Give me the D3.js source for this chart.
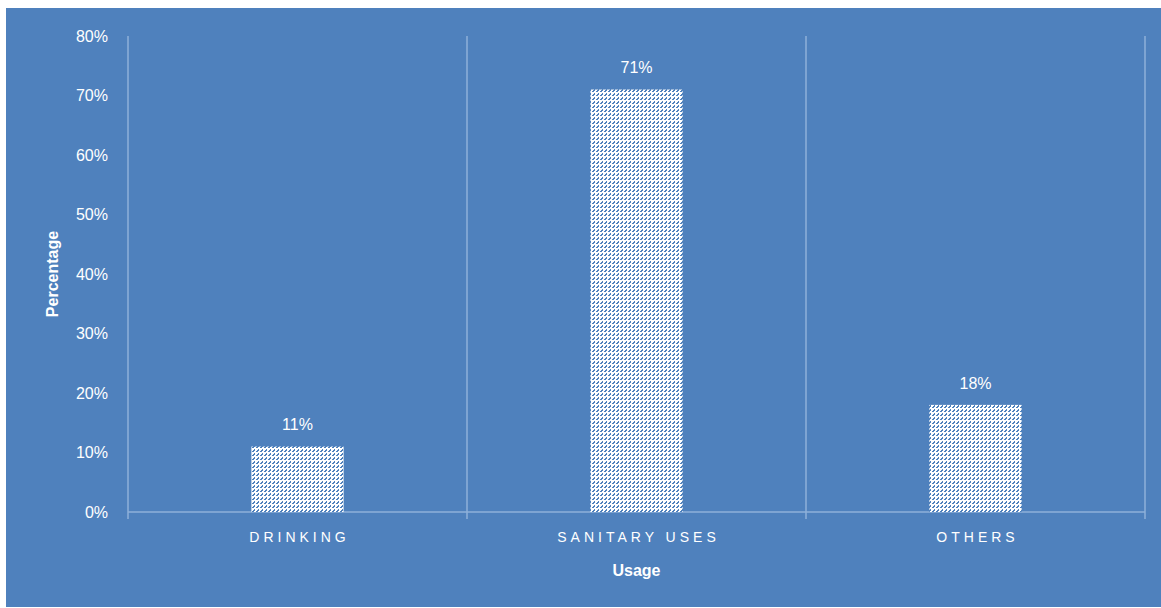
<!DOCTYPE html>
<html>
<head>
<meta charset="utf-8">
<script src="https://cdn.jsdelivr.net/npm/d3@7"></script>
<style>
  html, body { margin: 0; padding: 0; background: #ffffff; }
  svg { display: block; }
</style>
</head>
<body>
<svg id="chart" width="1161" height="608"></svg>
<script>
// Water usage shares by category
const categories = ["DRINKING", "SANITARY USES", "OTHERS"];
const values = [0.11, 0.71, 0.18];
const valueLabels = ["11%", "71%", "18%"];
const yTicks = [0, 0.1, 0.2, 0.3, 0.4, 0.5, 0.6, 0.7, 0.8];

const W = 1161, H = 608;
const bg = "#4f81bd";
const gridColor = "#8eb0da";
const margin = { left: 128, right: 16, top: 36, bottom: 96 };
const font = "'Liberation Sans', Arial, sans-serif";

const svg = d3.select("#chart");

// dashed upward-diagonal hatch used for the bars (8x8 tile, staggered dashes)
const defs = svg.append("defs");
const pat = defs.append("pattern")
  .attr("id", "hatch")
  .attr("patternUnits", "userSpaceOnUse")
  .attr("width", 8).attr("height", 8);
pat.append("rect").attr("width", 8).attr("height", 8).attr("fill", "#ffffff");
const dashPixels = [
  // dash on the x+y=7 diagonal
  [0,7],[1,7],[1,6],[2,6],[2,5],
  // staggered dash on the x+y=3 (mod 8) diagonal
  [4,7],[5,7],[5,6],[6,6],[6,5],
  [0,3],[1,3],[1,2],[2,2],[2,1],
  [4,3],[5,3],[5,2],[6,2],[6,1]
];
pat.selectAll("rect.px").data(dashPixels).enter().append("rect")
  .attr("class", "px")
  .attr("x", d => d[0]).attr("y", d => d[1])
  .attr("width", 1).attr("height", 1)
  .attr("fill", bg);

// background panel
svg.append("rect")
  .attr("x", 6).attr("y", 8)
  .attr("width", W - 6).attr("height", H - 9)
  .attr("fill", bg);

const x = d3.scaleBand()
  .domain(categories)
  .range([margin.left, W - margin.right])
  .paddingInner(0).paddingOuter(0);

const y = d3.scaleLinear()
  .domain([0, 0.8])
  .range([H - margin.bottom, margin.top]);

const y0 = y(0);
const yTop = y(0.8);

// vertical category separators (extend below the axis as tick marks)
const edges = categories.map(c => x(c)).concat([x(categories[categories.length - 1]) + x.bandwidth()]);
svg.selectAll("line.sep").data(edges).enter().append("line")
  .attr("class", "sep")
  .attr("x1", d => d).attr("x2", d => d)
  .attr("y1", yTop).attr("y2", y0 + 7)
  .attr("stroke", gridColor).attr("stroke-width", 1.5);

// baseline
svg.append("line")
  .attr("x1", x.range()[0]).attr("x2", x.range()[1])
  .attr("y1", y0).attr("y2", y0)
  .attr("stroke", gridColor).attr("stroke-width", 1.5);

// y tick labels
svg.selectAll("text.ytick").data(yTicks).enter().append("text")
  .attr("class", "ytick")
  .attr("x", 108)
  .attr("y", d => y(d))
  .attr("dy", "0.35em")
  .attr("text-anchor", "end")
  .attr("fill", "#ffffff")
  .style("font-family", font)
  .style("font-size", "16px")
  .text(d => d3.format(".0%")(d));

// bars
const barW = x.bandwidth() * 0.272;
svg.selectAll("rect.bar").data(values).enter().append("rect")
  .attr("class", "bar")
  .attr("x", (d, i) => x(categories[i]) + x.bandwidth() / 2 - barW / 2)
  .attr("y", d => y(d))
  .attr("width", barW)
  .attr("height", d => y0 - y(d))
  .attr("fill", "url(#hatch)");

// value labels
svg.selectAll("text.vlabel").data(values).enter().append("text")
  .attr("class", "vlabel")
  .attr("x", (d, i) => x(categories[i]) + x.bandwidth() / 2)
  .attr("y", d => y(d) - 22)
  .attr("dy", "0.35em")
  .attr("text-anchor", "middle")
  .attr("fill", "#ffffff")
  .style("font-family", font)
  .style("font-size", "16px")
  .text((d, i) => valueLabels[i]);

// category labels
svg.selectAll("text.cat").data(categories).enter().append("text")
  .attr("class", "cat")
  .attr("x", d => x(d) + x.bandwidth() / 2 + 2)
  .attr("y", 537)
  .attr("dy", "0.35em")
  .attr("text-anchor", "middle")
  .attr("fill", "#ffffff")
  .style("font-family", font)
  .style("font-size", "14px")
  .style("letter-spacing", "4px")
  .text(d => d);

// axis titles
svg.append("text")
  .attr("x", (x.range()[0] + x.range()[1]) / 2)
  .attr("y", 570)
  .attr("dy", "0.35em")
  .attr("text-anchor", "middle")
  .attr("fill", "#ffffff")
  .style("font-family", font)
  .style("font-size", "16px")
  .style("font-weight", "bold")
  .text("Usage");

svg.append("text")
  .attr("transform", `translate(52, ${(y0 + yTop) / 2}) rotate(-90)`)
  .attr("dy", "0.35em")
  .attr("text-anchor", "middle")
  .attr("fill", "#ffffff")
  .style("font-family", font)
  .style("font-size", "16px")
  .style("font-weight", "bold")
  .text("Percentage");
</script>
</body>
</html>
